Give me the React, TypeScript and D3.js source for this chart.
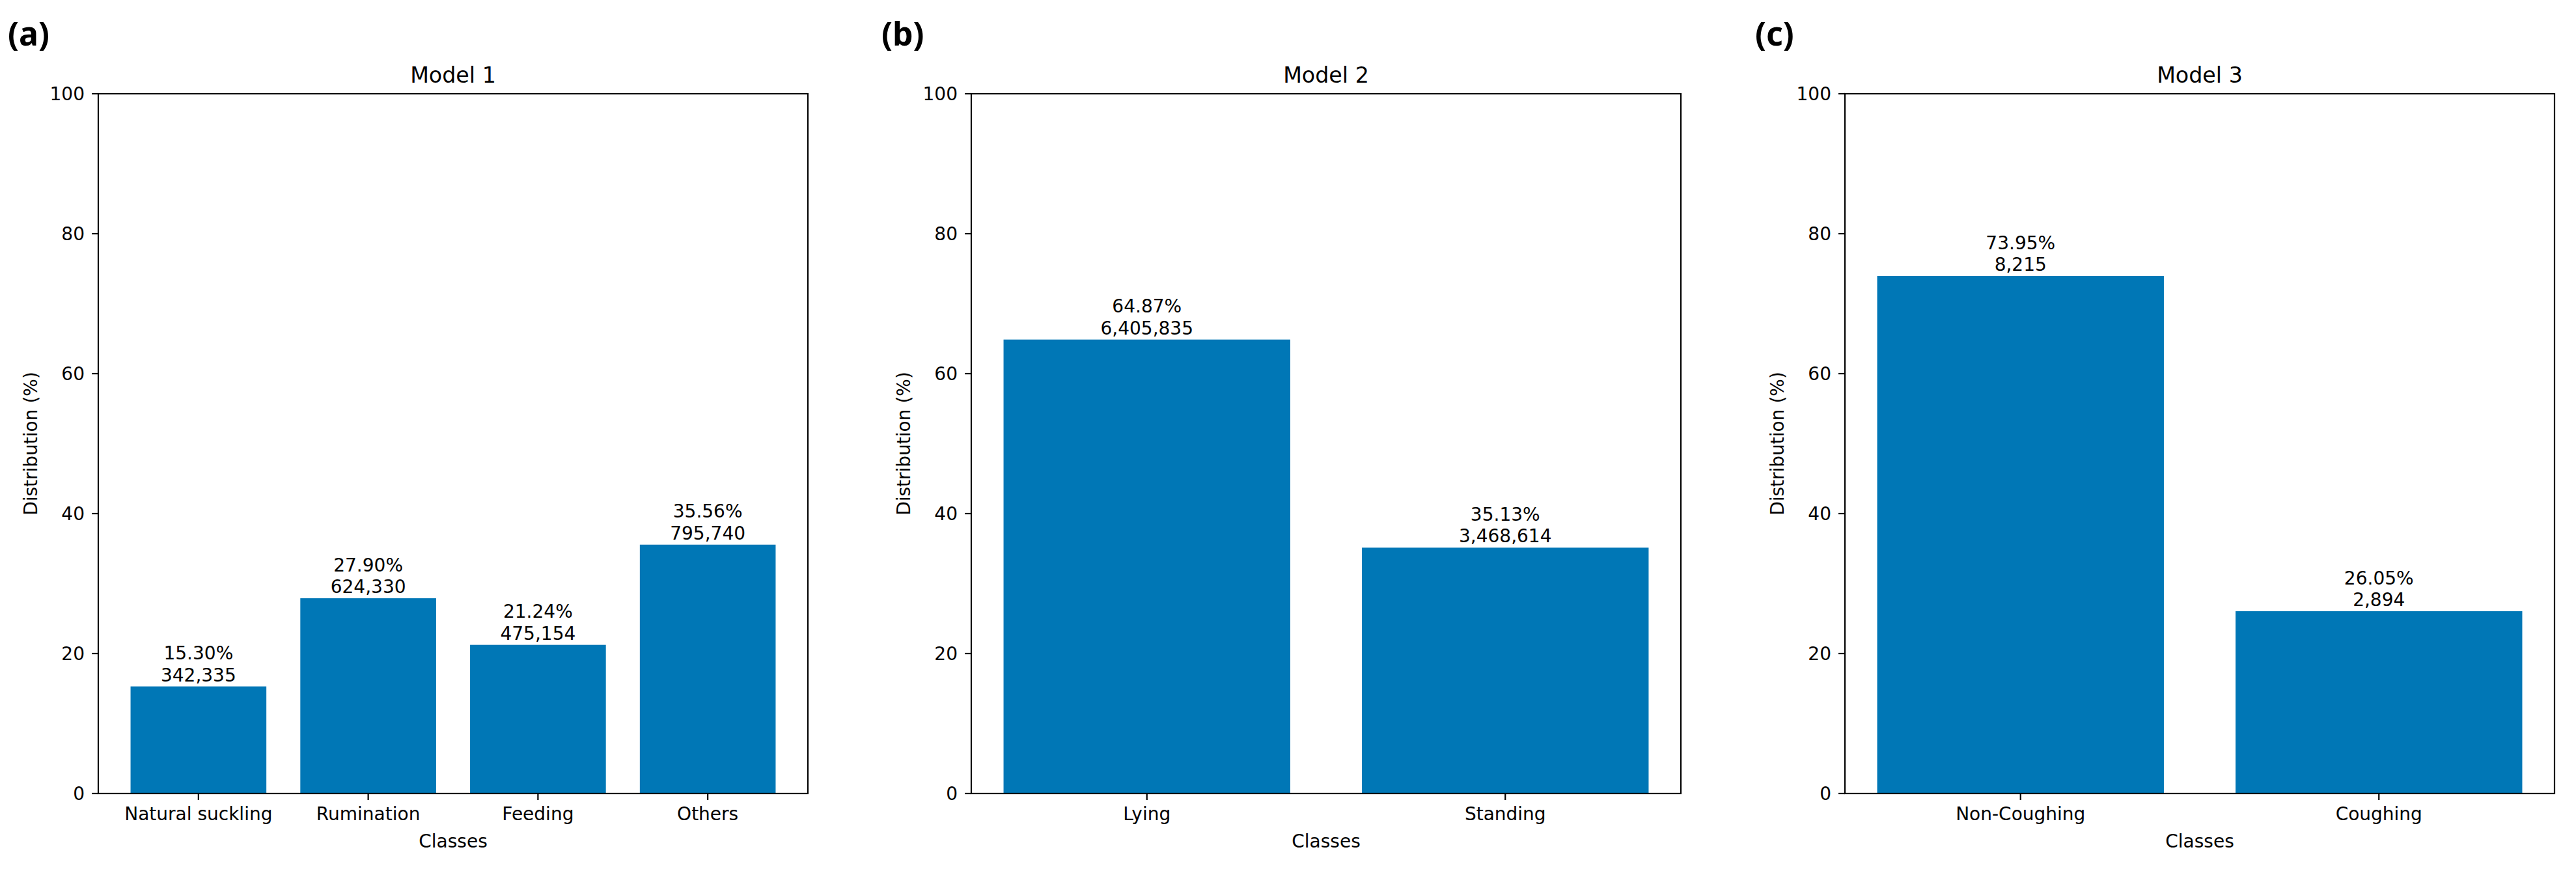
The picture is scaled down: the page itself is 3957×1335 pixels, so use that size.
import React from "react";
import * as d3 from "d3";

const W = 3957;
const H = 1335;

const panelLetters = ["(a)", "(b)", "(c)"];
const titles = ["Model 1", "Model 2", "Model 3"];
const classes1 = ["Natural suckling", "Rumination", "Feeding", "Others"];
const percents1 = [15.3, 27.9, 21.24, 35.56];
const counts1 = [342335, 624330, 475154, 795740];
const classes2 = ["Lying", "Standing"];
const percents2 = [64.87, 35.13];
const counts2 = [6405835, 3468614];
const classes3 = ["Non-Coughing", "Coughing"];
const percents3 = [73.95, 26.05];
const counts3 = [8215, 2894];
const yTicks = [0, 20, 40, 60, 80, 100];

const panels = [
  { letter: panelLetters[0], title: titles[0], classes: classes1, pct: percents1, cnt: counts1 },
  { letter: panelLetters[1], title: titles[1], classes: classes2, pct: percents2, cnt: counts2 },
  { letter: panelLetters[2], title: titles[2], classes: classes3, pct: percents3, cnt: counts3 },
];

const axLefts = [151, 1492, 2834];
const axW = 1090;
const axTop = 144;
const axBottom = 1219;
const letterX = [12, 1354, 2696];
const BAR = "#0077b6";
const FONT = "'DejaVu Sans', sans-serif";
const FS = 28;
const TICK = 10;
const LW = 2.2;

const fmtCount = d3.format(",");

function Panel({ p, left, lx }: any) {
  const n = p.classes.length;
  const span = n - 1 + 0.8;
  const m = 0.05 * span;
  const x = d3.scaleLinear().domain([-0.4 - m, n - 1 + 0.4 + m]).range([left, left + axW]);
  const y = d3.scaleLinear().domain([0, 100]).range([axBottom, axTop]);
  const cx = (left + left + axW) / 2;
  return (
    <g>
      <text x={lx} y={70} fontFamily="'Noto Sans', sans-serif" fontWeight="bold" fontSize={50} fill="#000">
        {p.letter}
      </text>
      <text x={cx} y={127} textAnchor="middle" fontFamily={FONT} fontSize={33.3} fill="#000">
        {p.title}
      </text>
      {p.pct.map((v: number, i: number) => (
        <rect key={"b" + i} x={x(i - 0.4)} y={y(v)} width={x(i + 0.4) - x(i - 0.4)} height={y(0) - y(v)} fill={BAR} />
      ))}
      {p.pct.map((v: number, i: number) => (
        <text key={"l" + i} x={x(i)} textAnchor="middle" fontFamily={FONT} fontSize={FS} fill="#000">
          <tspan x={x(i)} y={y(v) - 8 - 33.4}>{v.toFixed(2) + "%"}</tspan>
          <tspan x={x(i)} y={y(v) - 8}>{fmtCount(p.cnt[i])}</tspan>
        </text>
      ))}
      <rect x={left} y={axTop} width={axW} height={axBottom - axTop} fill="none" stroke="#000" strokeWidth={LW} />
      {yTicks.map((t) => (
        <g key={"y" + t}>
          <line x1={left - TICK} x2={left} y1={y(t)} y2={y(t)} stroke="#000" strokeWidth={LW} />
          <text x={left - TICK - 11} y={y(t)} dy="0.36em" textAnchor="end" fontFamily={FONT} fontSize={FS} fill="#000">
            {t}
          </text>
        </g>
      ))}
      {p.classes.map((c: string, i: number) => (
        <g key={"x" + i}>
          <line x1={x(i)} x2={x(i)} y1={axBottom} y2={axBottom + TICK} stroke="#000" strokeWidth={LW} />
          <text x={x(i)} y={1260} textAnchor="middle" fontFamily={FONT} fontSize={FS} fill="#000">
            {c}
          </text>
        </g>
      ))}
      <text x={cx} y={1302} textAnchor="middle" fontFamily={FONT} fontSize={FS} fill="#000">
        Classes
      </text>
      <text
        transform={`translate(${left - 94},${(axTop + axBottom) / 2}) rotate(-90)`}
        textAnchor="middle"
        fontFamily={FONT}
        fontSize={FS}
        fill="#000"
      >
        Distribution (%)
      </text>
    </g>
  );
}

export default function App() {
  return (
    <div style={{ position: "absolute", left: 0, top: 0 }}>
      <svg width={W} height={H} style={{ display: "block", background: "#fff" }}>
        <rect width={W} height={H} fill="#fff" />
        {panels.map((p, k) => (
          <Panel key={k} p={p} left={axLefts[k]} lx={letterX[k]} />
        ))}
      </svg>
    </div>
  );
}
